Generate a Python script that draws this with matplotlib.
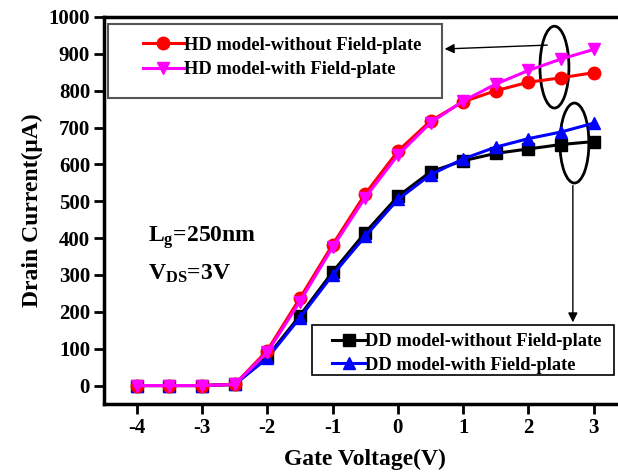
import matplotlib
matplotlib.use('Agg')
import matplotlib.pyplot as plt
from matplotlib.patches import Ellipse, Rectangle

plt.rcParams['font.family'] = ['Liberation Serif', 'DejaVu Serif']
plt.rcParams['font.weight'] = 'bold'
plt.rcParams['axes.unicode_minus'] = False
plt.rcParams['mathtext.fontset'] = 'custom'
plt.rcParams['mathtext.rm'] = 'Liberation Serif:bold'
plt.rcParams['mathtext.it'] = 'Liberation Serif:bold'
plt.rcParams['mathtext.bf'] = 'Liberation Serif:bold'

# data
vg = [-4, -3.5, -3, -2.5, -2, -1.5, -1, -0.5, 0, 0.5, 1, 1.5, 2, 2.5, 3]
hd_nofp = [0, 0, 0, 3, 95, 237, 382, 520, 636, 718, 770, 800, 823, 835, 849]
hd_fp = [0, 0, 0, 3, 90, 228, 375, 510, 625, 713, 772, 818, 855, 886, 912]
dd_nofp = [0, 0, 0, 3, 78, 190, 308, 415, 513, 580, 610, 630, 642, 654, 662]
dd_fp = [0, 0, 0, 3, 74, 184, 300, 405, 505, 572, 615, 647, 670, 688, 712]

xticks = [-4, -3, -2, -1, 0, 1, 2, 3]
yticks = [0, 100, 200, 300, 400, 500, 600, 700, 800, 900, 1000]

fig = plt.figure(figsize=(6.18, 4.76), dpi=100)
ax = fig.add_axes([0.1683, 0.1513, 0.8453, 0.813])

l_dd0, = ax.plot(vg, dd_nofp, '-s', color='black', lw=2.2, ms=8,
                 label='DD model-without Field-plate')
l_dd1, = ax.plot(vg, dd_fp, '-^', color='blue', lw=2.2, ms=9,
                 label='DD model-with Field-plate')
l_hd0, = ax.plot(vg, hd_nofp, '-o', color='red', lw=2.2, ms=9,
                 label='HD model-without Field-plate')
l_hd1, = ax.plot(vg, hd_fp, '-v', color='magenta', lw=2.2, ms=9,
                 label='HD model-with Field-plate')

ax.set_xlim(-4.5, 3.5)
ax.set_ylim(-50, 1000)
ax.set_xticks(xticks)
ax.set_yticks(yticks)
ax.tick_params(direction='out', length=7, width=2, labelsize=15, pad=3)
for s in ax.spines.values():
    s.set_linewidth(2.5)

ax.set_xlabel('Gate Voltage(V)', fontsize=17, fontweight='bold', labelpad=8)
ax.set_ylabel('Drain Current(μA)', fontsize=17, fontweight='bold', labelpad=4)

ax.text(-3.83, 390, r'$\mathrm{L_{g}}$=250nm', fontsize=17, va='baseline')
ax.text(-3.83, 287, r'$\mathrm{V_{DS}}$=3V', fontsize=17, va='baseline')

# legend boxes
fig.patches.append(Rectangle((0.1748, 0.7941), 0.5405, 0.1555, transform=fig.transFigure,
                             fill=False, edgecolor='#555555', lw=1.5))
fig.patches.append(Rectangle((0.5049, 0.2122), 0.4887, 0.105, transform=fig.transFigure,
                             fill=False, edgecolor='black', lw=1.2))

leg1 = fig.legend(handles=[l_hd0, l_hd1], loc='upper left', bbox_to_anchor=(0.2314, 0.9230),
                  frameon=False, fontsize=13.3, handlelength=2.2, handletextpad=0,
                  labelspacing=0.4, borderpad=0, borderaxespad=0)
leg2 = fig.legend(handles=[l_dd0, l_dd1], loc='upper left', bbox_to_anchor=(0.5372, 0.3000),
                  frameon=False, fontsize=13.3, handlelength=1.8, handletextpad=0,
                  labelspacing=0.35, borderpad=0, borderaxespad=0)

# ellipses and arrows
ax.add_patch(Ellipse((2.398, 864), 0.444, 222, fill=False, edgecolor='black', lw=2))
ax.add_patch(Ellipse((2.704, 658), 0.444, 217, fill=False, edgecolor='black', lw=2))
ax.annotate('', xy=(0.675, 913), xytext=(2.33, 924),
            arrowprops=dict(arrowstyle='-|>', color='black', lw=1, mutation_scale=14))
ax.annotate('', xy=(2.68, 164), xytext=(2.68, 550), annotation_clip=False,
            arrowprops=dict(arrowstyle='-|>', color='black', lw=1, mutation_scale=14))

fig.savefig('out.png', dpi=100)
